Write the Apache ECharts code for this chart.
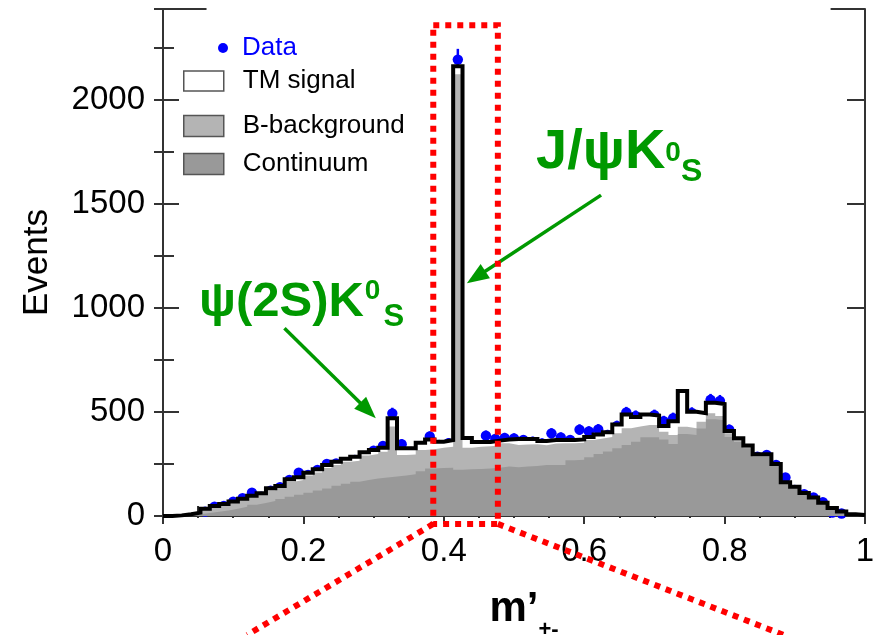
<!DOCTYPE html>
<html>
<head>
<meta charset="utf-8">
<title>m'+- distribution</title>
<script src="https://cdn.jsdelivr.net/npm/echarts@6/dist/echarts.min.js"></script>
<style>
  html, body { margin: 0; padding: 0; background: #ffffff; }
  #chart { width: 875px; height: 635px; }
</style>
</head>
<body>
<div id="chart"></div>
<script>
// Histogram binning on m'+- (75 equal bins between 0 and 1)
const BIN_LOW = 0;
const BIN_HIGH = 1;
const N_BINS = 75;

// Stacked components, events per bin (bottom to top)
const continuum = [
  0, 1, 3, 8, 14, 20, 27, 35, 44, 54,
  63, 72, 82, 92, 102, 112, 122, 132, 145, 155,
  165, 173, 180, 185, 190, 195, 200, 215, 228, 230,
  232, 222, 225, 226, 228, 232, 238, 234, 238, 240,
  245, 245, 245, 268, 270, 282, 298, 310, 325, 341,
  357, 378, 378, 368, 346, 394, 389, 420, 465, 460,
  380, 355, 325, 285, 285, 240, 155, 133, 105, 84,
  60, 35, 20, 7, 4
];
const bBackground = [
  0, 2, 4, 7, 19, 25, 28, 31, 34, 37,
  39, 52, 52, 72, 71, 82, 87, 98, 100, 105,
  100, 117, 118, 124, 240, 98, 95, 102, 92, 98,
  101, 1900, 103, 107, 107, 106, 111, 107, 105, 105,
  95, 103, 104, 82, 82, 83, 74, 70, 72, 80,
  73, 59, 59, 37, 43, 35, 32, 33, 28, 20,
  17, 10, 7, 5, 5, 5, 3, 4, 2, 2,
  2, 2, 1, 1, 1
];
const tmSignal = [
  0, 0, 1, 1, 2, 3, 3, 4, 5, 6,
  7, 9, 10, 12, 13, 14, 15, 15, 16, 15,
  20, 16, 19, 19, 40, 32, 30, 35, 48, 29,
  32, 38, 47, 22, 20, 24, 18, 29, 27, 25,
  20, 17, 16, 15, 16, 15, 20, 22, 43, 67,
  45, 51, 46, 27, 66, 171, 80, 41, 51, 58,
  11, 8, 6, 6, 6, 5, 4, 3, 3, 3,
  2, 1, 1, 1, 0
];

// Observed events per bin (null = no point drawn)
const dataCounts = [
  null, null, null, null, 21, 45, 48, 69, 85, 112,
  93, 122, 138, 173, 208, 197, 221, 250, 252, 250,
  269, 286, 314, 336, 493, 345, 308, 335, 382, 341,
  350, 2192, 348, 329, 386, 370, 375, 373, 365, 357,
  349, 397, 377, 365, 415, 406, 416, 389, 432, 497,
  480, 464, 484, 455, 470, 581, 495, 470, 558, 553,
  414, 346, 293, 285, 293, 245, 185, 125, 105, 89,
  66, 16, 12, null, null
];

// Arrows pointing at the two charmonium peaks, in (m'+-, events)
const arrowFrom = [[0.173, 902], [0.624, 1541]];
const arrowTo   = [[0.292, 507], [0.446, 1147]];

// Highlighted window around the J/psi peak, in (m'+-, events)
const windowX = [0.385, 0.477];
const windowY = [-38, 2357];
const fanEndX = [0.12, 0.884];
const fanEndY = -571;

const Y_MAX = 2435;
const FONT = '"Liberation Sans", Arial, Helvetica, sans-serif';
const AXIS_COLOR = '#333333';
const GREEN = '#009900';
const BLUE = '#0000ff';

const binWidth = (BIN_HIGH - BIN_LOW) / N_BINS;
const edges = [];
for (let i = 0; i <= N_BINS; i++) edges.push(BIN_LOW + i * binWidth);

// cumulative tops of the stack
const contTop = continuum.slice();
const bkgTop = continuum.map((v, i) => v + bBackground[i]);
const totalTop = bkgTop.map((v, i) => v + tmSignal[i]);

function stepPoints(values) {
  const pts = values.map((v, i) => [edges[i], v]);
  pts.push([edges[N_BINS], values[N_BINS - 1]]);
  return pts;
}

const dataPoints = [];
dataCounts.forEach((n, i) => {
  if (n === null) return;
  dataPoints.push([(edges[i] + edges[i + 1]) / 2, n, Math.sqrt(n)]);
});

function areaSeries(name, values, color) {
  return {
    name: name,
    type: 'line',
    step: 'end',
    data: stepPoints(values),
    showSymbol: false,
    symbol: 'none',
    silent: true,
    lineStyle: { width: 0, opacity: 0 },
    areaStyle: { color: color, opacity: 1 },
    itemStyle: { color: color },
    emphasis: { disabled: true }
  };
}

function legendEntry(name, left, top, w, h, icon, itemStyle, textColor) {
  return {
    left: left, top: top,
    orient: 'horizontal',
    itemWidth: w, itemHeight: h,
    selectedMode: false,
    padding: 0,
    data: [{ name: name, icon: icon, itemStyle: itemStyle }],
    formatter: '{t|{name}}',
    textStyle: {
      color: textColor,
      rich: {
        t: {
          fontSize: 26, fontFamily: FONT, color: textColor,
          lineHeight: h, padding: [0, 0, 0, name === 'Data' ? 9 : 14]
        }
      }
    }
  };
}

const tickStyle = { color: AXIS_COLOR, width: 2 };

const option = {
  animation: false,
  backgroundColor: '#ffffff',
  grid: { left: 163, right: 10, top: 9, bottom: 119, containLabel: false, outerBoundsMode: 'none' },
  legend: [
    legendEntry('Data', 218, 35, 10, 10, 'circle', { color: BLUE }, BLUE),
    legendEntry('TM signal', 183, 68, 40, 20, 'rect',
      { color: '#ffffff', borderColor: '#555555', borderWidth: 1.5 }, '#000000'),
    legendEntry('B-background', 183, 113, 40, 21, 'rect',
      { color: '#b4b4b4', borderColor: '#555555', borderWidth: 1.5 }, '#000000'),
    legendEntry('Continuum', 183, 151, 40, 21, 'rect',
      { color: '#999999', borderColor: '#555555', borderWidth: 1.5 }, '#000000')
  ],
  xAxis: [
    {
      type: 'value', position: 'bottom', min: BIN_LOW, max: BIN_HIGH, interval: 0.2,
      axisLine: { show: true, onZero: false, lineStyle: tickStyle },
      axisTick: { show: true, inside: true, length: 20, lineStyle: tickStyle },
      minorTick: { show: true, splitNumber: 4, length: 10, lineStyle: tickStyle },
      splitLine: { show: false },
      minorSplitLine: { show: false },
      axisLabel: {
        fontSize: 33, fontFamily: FONT, color: '#000000', margin: 19,
        formatter: v => String(v)
      },
      name: '{m|m\u2019}{s|+-}',
      nameLocation: 'middle',
      nameGap: 71,
      nameMoveOverlap: false,
      nameTextStyle: {
        rich: {
          m: { fontSize: 42, fontWeight: 'bold', fontFamily: FONT, color: '#000000',
               lineHeight: 44, padding: [0, 0, 0, 20] },
          s: { fontSize: 22, fontWeight: 'bold', fontFamily: FONT, color: '#000000',
               lineHeight: 24, padding: [41, 0, 0, 0] }
        }
      }
    },
    {
      type: 'value', position: 'top', min: BIN_LOW, max: BIN_HIGH, interval: 0.2, offset: -4,
      axisLine: { show: false },
      axisTick: { show: true, inside: true, length: 12, lineStyle: tickStyle },
      minorTick: { show: true, splitNumber: 4, length: 6, lineStyle: tickStyle },
      splitLine: { show: false },
      axisLabel: { show: false }
    }
  ],
  yAxis: [
    {
      type: 'value', position: 'left', min: 0, max: Y_MAX, interval: 500,
      axisLine: { show: true, onZero: false, lineStyle: tickStyle },
      axisTick: { show: true, inside: true, length: 16, lineStyle: tickStyle },
      splitLine: { show: false },
      axisLabel: {
        fontSize: 33, fontFamily: FONT, color: '#000000', margin: 18,
        padding: [6, 0, 0, 0], showMaxLabel: false,
        formatter: v => String(v)
      },
      name: 'Events',
      nameLocation: 'middle',
      nameRotate: 90,
      nameGap: 108,
      nameMoveOverlap: false,
      nameTextStyle: { fontSize: 35, fontFamily: FONT, color: '#000000' }
    },
    {
      type: 'value', position: 'left', min: 0, max: Y_MAX, interval: 250,
      axisLine: { show: false },
      axisTick: { show: true, inside: true, length: 11, lineStyle: tickStyle },
      splitLine: { show: false },
      axisLabel: { show: false }
    },
    {
      type: 'value', position: 'right', min: 0, max: Y_MAX, interval: 500,
      axisLine: { show: true, onZero: false, lineStyle: tickStyle },
      axisTick: { show: true, inside: true, length: 18, lineStyle: tickStyle },
      splitLine: { show: false },
      axisLabel: { show: false }
    },
    {
      type: 'value', position: 'right', min: 0, max: Y_MAX, interval: 250,
      axisLine: { show: false },
      axisTick: { show: true, inside: true, length: 9, lineStyle: tickStyle },
      splitLine: { show: false },
      axisLabel: { show: false }
    }
  ],
  series: [
    areaSeries('TM signal', totalTop, '#ffffff'),
    areaSeries('B-background', bkgTop, '#b4b4b4'),
    areaSeries('Continuum', contTop, '#999999'),
    {
      name: 'Total',
      type: 'line',
      step: 'end',
      data: stepPoints(totalTop),
      showSymbol: false,
      symbol: 'none',
      silent: true,
      lineStyle: { color: '#000000', width: 4, join: 'miter' },
      emphasis: { disabled: true },
      markLine: {
        silent: true,
        animation: false,
        symbol: ['none', 'triangle'],
        symbolSize: [17, 22],
        label: { show: false },
        emphasis: { disabled: true },
        lineStyle: { color: GREEN, width: 3.5, type: 'solid' },
        itemStyle: { color: GREEN },
        data: arrowFrom.map((p, i) => [{ coord: p }, { coord: arrowTo[i] }])
      }
    },
    {
      name: 'Data',
      type: 'custom',
      silent: true,
      data: dataPoints,
      encode: { x: 0, y: 1 },
      itemStyle: { color: BLUE },
      renderItem: function (params, api) {
        const x = api.value(0);
        const n = api.value(1);
        const e = api.value(2);
        const c = api.coord([x, n]);
        const hi = api.coord([x, n + e]);
        const lo = api.coord([x, n - e]);
        return {
          type: 'group',
          children: [
            { type: 'line', shape: { x1: c[0], y1: hi[1] - 1, x2: c[0], y2: lo[1] + 1 },
              style: { stroke: BLUE, lineWidth: 2.5 } },
            { type: 'circle', shape: { cx: c[0], cy: c[1], r: 5.2 },
              style: { fill: BLUE } }
          ]
        };
      }
    }
  ]
};

const chart = echarts.init(document.getElementById('chart'), null, { renderer: 'canvas' });
chart.setOption(option);

// Overlays: frame corners, highlighted window with fan lines, peak labels
const px = p => chart.convertToPixel({ seriesIndex: 0 }, p);
const w0 = px([windowX[0], windowY[1]]);
const w1 = px([windowX[1], windowY[0]]);
const f0 = px([fanEndX[0], fanEndY]);
const f1 = px([fanEndX[1], fanEndY]);
const topL0 = px([0, Y_MAX]);
const topL1 = px([0.062, Y_MAX]);
const topR0 = px([0.951, Y_MAX]);
const topR1 = px([1, Y_MAX]);

const redDots = { stroke: '#ff0000', lineWidth: 6, lineDash: [6, 6], fill: null, lineCap: 'butt' };
const frame = { stroke: AXIS_COLOR, lineWidth: 2 };

function labelText(x, y, main, sup, sub, mainSize, supPad, subPad, supSize, subSize) {
  return {
    type: 'text', x: x, y: y, z: 120, silent: true,
    style: {
      text: '{a|' + main + '}{b|' + sup + '}{c|' + sub + '}',
      align: 'left', verticalAlign: 'middle',
      rich: {
        a: { fontSize: mainSize, fontWeight: 'bold', fontFamily: FONT, fill: GREEN, color: GREEN, lineHeight: mainSize },
        b: { fontSize: supSize, fontWeight: 'bold', fontFamily: FONT, fill: GREEN, color: GREEN, lineHeight: supSize, padding: supPad },
        c: { fontSize: subSize, fontWeight: 'bold', fontFamily: FONT, fill: GREEN, color: GREEN, lineHeight: subSize, padding: subPad }
      }
    }
  };
}

chart.setOption({
  graphic: [
    { type: 'line', z: 100, silent: true, shape: { x1: topL0[0], y1: topL0[1], x2: topL1[0], y2: topL1[1] }, style: frame },
    { type: 'line', z: 100, silent: true, shape: { x1: topR0[0], y1: topR0[1], x2: topR1[0], y2: topR1[1] }, style: frame },
    { type: 'polygon', z: 110, silent: true,
      shape: { points: [[w0[0], w0[1]], [w1[0], w0[1]], [w1[0], w1[1]], [w0[0], w1[1]]] },
      style: redDots },
    { type: 'line', z: 110, silent: true, shape: { x1: w0[0], y1: w1[1], x2: f0[0], y2: f0[1] }, style: redDots },
    { type: 'line', z: 110, silent: true, shape: { x1: w1[0], y1: w1[1], x2: f1[0], y2: f1[1] }, style: redDots },
    labelText(536, 153, 'J/\u03c8K', '0', 'S', 56, [0, 0, 0, 0], [39, 0, 0, 0], 28, 32),
    labelText(199, 302, '\u03c8(2S)K', '0', 'S', 49, [0, 0, 21, 1], [30, 0, 0, 3], 28, 31)
  ]
});
</script>
</body>
</html>
